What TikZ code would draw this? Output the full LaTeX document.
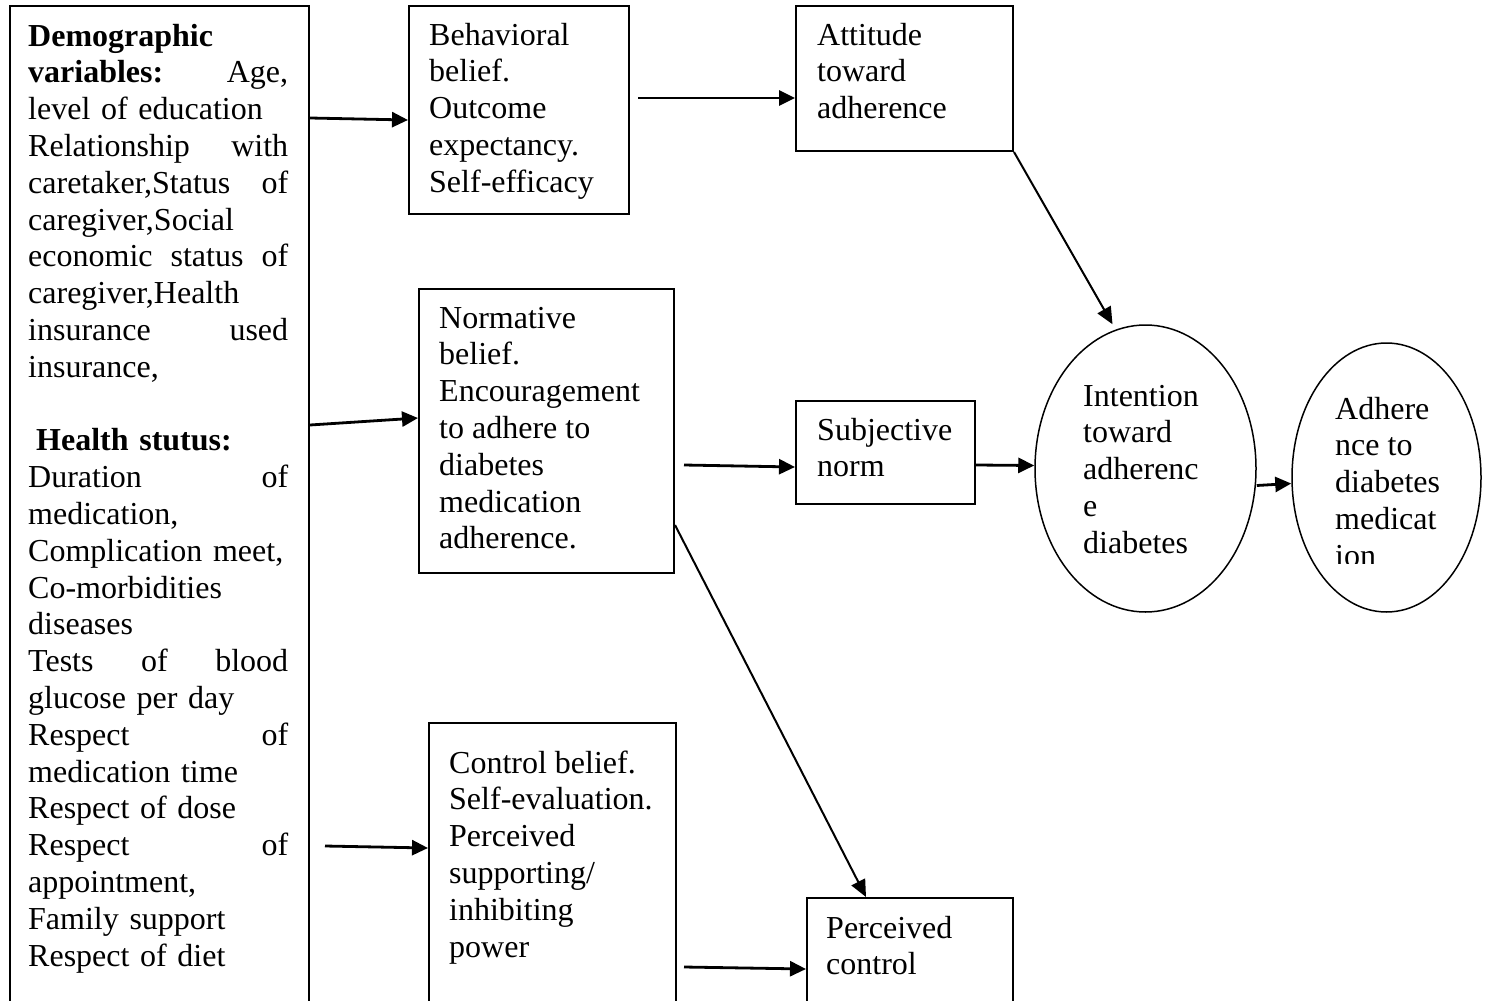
\documentclass[tikz,border=0pt]{standalone}
\usepackage{fontspec}
\setmainfont{Liberation Serif}
\usetikzlibrary{shapes.geometric,arrows.meta}
\newcommand{\jline}[1]{\makebox[260pt][s]{#1}}
\begin{document}
\begin{tikzpicture}[x=1pt,y=-1pt,
  box/.style={draw, line width=2pt, inner sep=0pt, anchor=north west},
  oval/.style={draw, ellipse, line width=1.5pt, inner sep=0pt},
  txt/.style={anchor=north west, inner sep=0pt, align=left, font=\fontsize{32}{36.8}\selectfont},
  arr/.style={-{Triangle[length=16pt,width=15pt]}, line width=2.8pt},
  thinarr/.style={-{Triangle[length=17pt,width=15pt]}, line width=2pt}]
\path[use as bounding box, clip] (0,0) rectangle (1491,1001);
\fill[white] (0,0) rectangle (1491,1001);

% boxes
\node[box, minimum width=299pt, minimum height=1030pt] (L) at (9,5) {};
\node[box, minimum width=220pt, minimum height=208pt] (B) at (408,5) {};
\node[box, minimum width=217pt, minimum height=145pt] (A) at (795,5) {};
\node[box, minimum width=255pt, minimum height=284pt] (N) at (418,288) {};
\node[box, minimum width=179pt, minimum height=103pt] (S) at (795,400) {};
\node[box, minimum width=247pt, minimum height=320pt] (C) at (428,722) {};
\node[box, minimum width=206pt, minimum height=150pt] (P) at (806,897) {};
\node[oval, minimum width=221pt, minimum height=287pt] (I) at (1145.5,468.5) {};
\node[oval, minimum width=189pt, minimum height=269pt] (D) at (1386.5,477.5) {};

% texts
\node[txt, text width=260pt] (Lt) at (28,20.2) {\strut\textbf{Demographic}\\
\jline{\textbf{variables:}\hfill Age,}\\
level of education\\
\jline{Relationship\hfill with}\\
\jline{caretaker,Status\hfill of}\\
caregiver,Social\\
\jline{economic\hfill status\hfill of}\\
caregiver,Health\\
\jline{insurance\hfill used}\\
insurance,\\
\strut\\
\hspace*{8pt}\textbf{Health stutus:}\\
\jline{Duration\hfill of}\\
medication,\\
Complication meet,\\
Co-morbidities\\
diseases\\
\jline{Tests\hfill of\hfill blood}\\
glucose per day\\
\jline{Respect\hfill of}\\
medication time\\
Respect of dose\\
\jline{Respect\hfill of}\\
appointment,\\
Family support\\
Respect of diet};
\node[txt] (Bt) at (429,19.2) {\strut Behavioral\\ belief.\\ Outcome\\ expectancy.\\ Self-efficacy};
\node[txt] (At) at (817,19.2) {\strut Attitude\\ toward\\ adherence};
\node[txt] (Nt) at (439,302.2) {\strut Normative\\ belief.\\ Encouragement\\ to adhere to\\ diabetes\\ medication\\ adherence.};
\node[txt] (St) at (817,414.2) {\strut Subjective\\ norm};
\node[txt] (It) at (1083,380.2) {\strut Intention\\ toward\\ adherenc\\ e\\ diabetes};
\begin{scope}
\clip (1300,380) rectangle (1480,563);
\node[txt] (Dt) at (1335,393.2) {\strut Adhere\\ nce to\\ diabetes\\ medicat\\ ion};
\end{scope}
\node[txt] (Ct) at (449,747.2) {\strut Control belief.\\ Self-evaluation.\\ Perceived\\ supporting/\\ inhibiting\\ power};
\node[txt] (Pt) at (826,912.2) {\strut Perceived\\ control};

% connectors
\draw[arr] ([yshift=-113pt]L.north east) -- ([yshift=-115pt]B.north west);
\draw[arr] ([xshift=8pt,yshift=-93pt]B.north east) -- ([yshift=-93pt]A.north west);
\draw[thinarr] (A.south east) -- ([xshift=-33pt,yshift=0pt]I.north);
\draw[arr] ([yshift=-420pt]L.north east) -- ([yshift=-130pt]N.north west);
\draw[arr] ([xshift=9pt,yshift=-177pt]N.north east) -- ([yshift=-67pt]S.north west);
\draw[arr] ([yshift=-65pt]S.north east) -- ([yshift=3pt]I.west);
\draw[arr] ([yshift=-17pt]I.east) -- ([yshift=-6pt]D.west);
\draw[thinarr] ([yshift=-237pt]N.north east) -- ([xshift=60pt]P.north west);
\draw[arr] ([xshift=15pt,yshift=-841pt]L.north east) -- ([yshift=-126pt]C.north west);
\draw[arr] ([xshift=7pt,yshift=-245pt]C.north east) -- ([yshift=-72pt]P.north west);
\end{tikzpicture}
\end{document}
